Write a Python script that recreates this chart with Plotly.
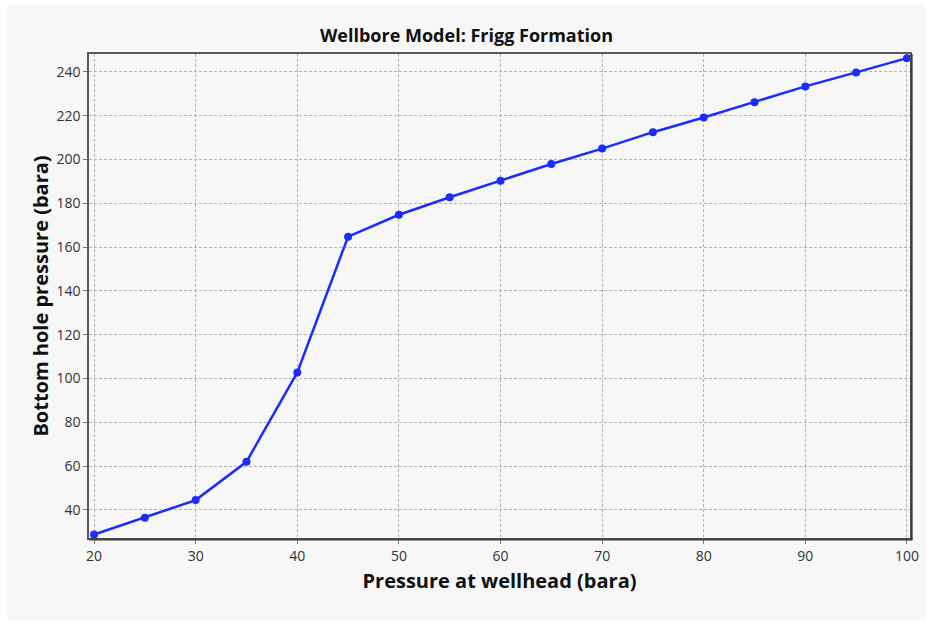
import plotly.graph_objects as go

# Wellhead pressure (bara) and the resulting bottom-hole pressure (bara)
wellhead_pressure = [20, 25, 30, 35, 40, 45, 50, 55, 60, 65, 70, 75, 80, 85, 90, 95, 100]
bottom_hole_pressure = [28.8, 36.5, 44.5, 62.0, 102.8, 164.8, 174.8, 182.8, 190.3, 198.0,
                        205.0, 212.5, 219.2, 226.2, 233.4, 239.8, 246.3]

x_ticks = [20, 30, 40, 50, 60, 70, 80, 90, 100]
y_ticks = [40, 60, 80, 100, 120, 140, 160, 180, 200, 220, 240]

PANEL = "#f7f7f7"
FONT = "Open Sans, Noto Sans, DejaVu Sans, sans-serif"

fig = go.Figure()
fig.add_trace(go.Scatter(
    x=wellhead_pressure,
    y=bottom_hole_pressure,
    mode="lines+markers",
    line=dict(color="#1a2cff", width=2.5),
    marker=dict(color="#1a2cff", size=8),
    showlegend=False,
))

grid = dict(showgrid=True, gridcolor="#b4b4b4", gridwidth=1, griddash="3px,2px",
            zeroline=False, showline=True, mirror=True, linecolor="#5a5a5a", linewidth=1.5,
            ticks="outside", ticklen=4, tickcolor="#777", tickwidth=1,
            tickfont=dict(family=FONT, size=14, color="#333"))

fig.update_xaxes(range=[19.5, 100.3], tickvals=x_ticks,
                 title=dict(text="Pressure at wellhead (bara)", standoff=10,
                            font=dict(family=FONT, size=20, color="#111", weight="bold")),
                 **grid)
fig.update_yaxes(range=[27.2, 248.2], tickvals=y_ticks,
                 title=dict(text="Bottom hole pressure (bara)", standoff=2,
                            font=dict(family=FONT, size=20, color="#111", weight="bold")),
                 **grid)

# light panel behind the whole chart, and a drop-shadow edge on the plot frame
fig.add_shape(type="rect", xref="paper", yref="paper", layer="below",
              x0=-82 / 821, x1=1 + 16 / 821, y0=-82 / 484, y1=1 + 49 / 484,
              fillcolor=PANEL, line=dict(width=0))
fig.add_shape(type="line", xref="paper", yref="paper", x0=1.002, x1=1.002, y0=-0.003, y1=1,
              line=dict(color="#3c3c3c", width=2))
fig.add_shape(type="line", xref="paper", yref="paper", x0=0, x1=1.003, y0=-0.003, y1=-0.003,
              line=dict(color="#3c3c3c", width=2))

fig.update_layout(
    width=933, height=626,
    margin=dict(l=89, r=23, t=54, b=88),
    paper_bgcolor="white",
    plot_bgcolor=PANEL,
    title=dict(text="Wellbore Model: Frigg Formation", x=0.5, xref="container",
               y=1 - 36 / 626, yanchor="middle",
               font=dict(family=FONT, size=18, color="#111", weight="bold")),
)

fig.write_html("out.html")
